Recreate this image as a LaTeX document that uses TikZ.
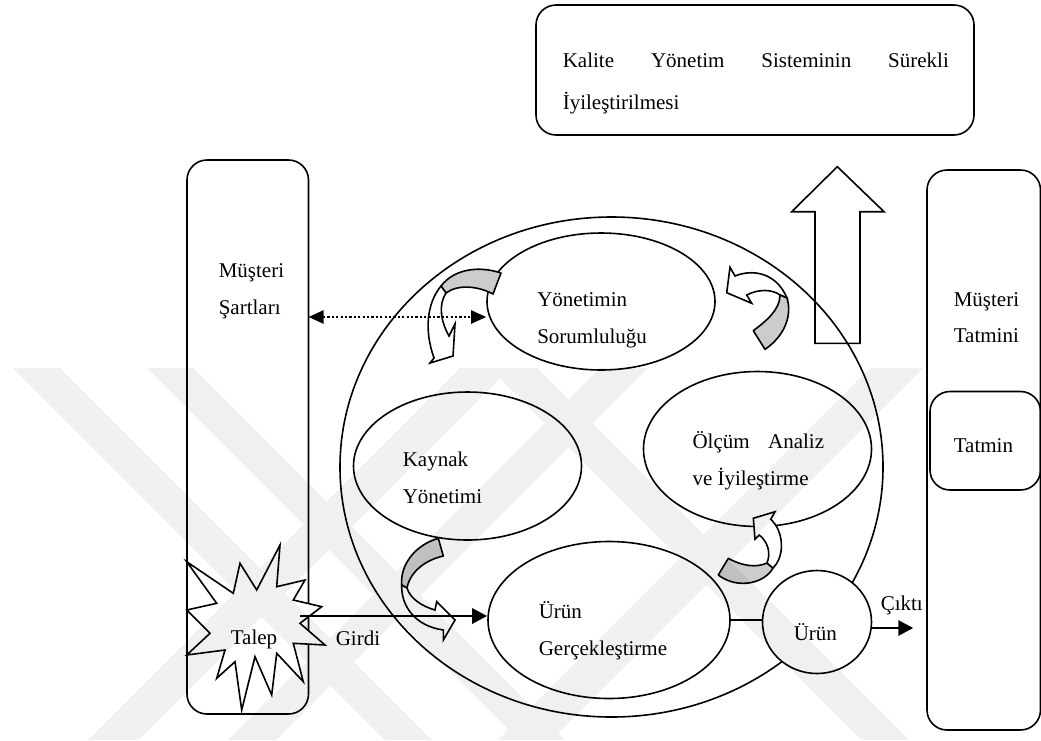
\documentclass[tikz,border=0pt]{standalone}
\usepackage{fontspec}
\setmainfont{Liberation Serif}
\usetikzlibrary{shapes.geometric,arrows.meta}
\begin{document}
\begin{tikzpicture}[x=1pt,y=-1pt,line width=1.6pt,
  frame/.style={draw, rounded corners=20pt},
  oval/.style={draw, ellipse, fill=white, inner sep=0pt},
  txt/.style={anchor=base west, inner sep=0pt, font=\fontsize{21}{25}\selectfont},
  bandgray/.style={draw, fill=black!20, line join=round},
  bandwhite/.style={draw, fill=white, line join=miter},
  flow/.style={line width=2.8pt, -{Triangle[length=15pt,width=15pt]}},
  dotflow/.style={line width=2.2pt, dash pattern=on 2.2pt off 2.2pt,
    {Triangle[length=15pt,width=13pt]}-{Triangle[length=15pt,width=13pt]}},
  stampfill/.style={fill=black, fill opacity=0.06}]
\useasboundingbox (0,0) rectangle (1041,740);
\clip (0,0) rectangle (1041,740);

% frames
\draw[frame] (536,5) rectangle (974,135);
\draw[frame] (187,160) rectangle (308.5,714);
\draw[frame] (927,170) rectangle (1040.5,730);
\draw[frame] (930,391.5) rectangle (1040.5,490);

% outer cycle
\node[draw, ellipse, inner sep=0pt, minimum width=543pt, minimum height=500pt] (cyc) at (611.5,467) {};

% improvement arrow (outline only)
\draw[line join=miter] (815,343.3) -- (815,211.7) -- (791.7,211.7) -- (837.3,166.7)
  -- (884,211.7) -- (860,211.7) -- (860,343.3) -- cycle;

% process ellipses
\node[oval, minimum width=228pt, minimum height=137pt] (yon) at (601,301.5) {};
\node[oval, minimum width=228pt, minimum height=148pt] (kay) at (467.5,466) {};
\node[oval, minimum width=228pt, minimum height=155pt] (olc) at (757.5,449) {};
\node[oval, minimum width=242pt, minimum height=157pt] (ug) at (609,620) {};
\node[oval, minimum width=109pt, minimum height=103pt] (urun) at (817,622) {};
\draw (ug.east) -- (ug.east -| urun.west);

% curved arrows
\draw[bandgray] (441,286) .. controls (455,268) and (480,266) .. (501,273) -- (493,294)
  .. controls (478,286) and (458,284) .. (446,293) -- cycle;
\draw[bandwhite] (441,286) .. controls (427,303) and (424,330) .. (434,358) -- (430,363)
  -- (453,356) -- (455,324) -- (449,336) .. controls (441,322) and (438,305) .. (446,293) -- cycle;

\draw[bandwhite] (735,276) .. controls (752,269) and (776,272) .. (787,298) -- (780,295)
  .. controls (772,289) and (758,289) .. (746.7,295) -- (751.7,303.3) -- (726.7,292.7)
  -- (730,267.3) -- cycle;
\draw[bandgray] (780,295) -- (787,298) .. controls (793,318) and (782,338) .. (765,349.3)
  -- (753.3,330.7) .. controls (766,321) and (780,310) .. (780,295) -- cycle;

\draw[bandgray] (438.3,538.3) -- (443.3,556) .. controls (425,560) and (410,572) .. (407,588)
  -- (401.7,585) .. controls (400,565) and (415,545) .. (438.3,538.3) -- cycle;
\draw[bandwhite] (401.7,585) .. controls (401,606) and (415,626) .. (443.3,630) -- (443.3,640)
  -- (455,620) -- (436.7,601.7) -- (435,610) .. controls (421,606) and (410,598) .. (407,588) -- cycle;

\draw[bandgray] (718.3,575) -- (728.3,558.3) .. controls (742,566) and (756,568) .. (767,563)
  -- (773,568) .. controls (765,583) and (738,590) .. (718.3,575) -- cycle;
\draw[bandwhite] (767,563) .. controls (771,553) and (768,542) .. (759.3,535) -- (755,539.3)
  -- (753.3,518.3) -- (775,511.7) -- (770.7,519.3) .. controls (783,530) and (786,555) .. (773,568) -- cycle;

% demand burst
\draw[fill=white, line join=miter] (186.7,561.7) -- (216.7,603.3) -- (186.7,610) -- (210,633.3)
  -- (186.7,655) -- (225,650) -- (216.7,678.3) -- (235,661.7) -- (241.7,710) -- (255,656.7)
  -- (271.7,695) -- (276.7,653.3) -- (303.3,681.7) -- (293.3,643.3) -- (325,645) -- (300,623.3)
  -- (321.7,606.7) -- (293.3,600) -- (305,580) -- (276.7,586.7) -- (280,545) -- (256.7,590)
  -- (240,563.3) -- (233.3,593.3) -- cycle;

% flows
\coordinate (gin) at (300,616);
\draw[flow] (gin) -- (gin -| ug.west);
\coordinate (cout) at (913.3,628);
\draw[flow] (cout -| urun.east) -- (cout);
\coordinate (req) at (308.5,317);
\draw[dotflow] (req) -- (req -| yon.west);

% labels
\node[txt] (kal1) at (562,67) {\hbox to 386pt{Kalite\hfill Yönetim\hfill Sisteminin\hfill Sürekli}};
\node[txt] (kal2) at (562,109) {İyileştirilmesi};
\node[txt] (ms1) at (218,277) {Müşteri};
\node[txt] (ms2) at (218,314) {Şartları};
\node[txt] (mt1) at (953,306) {Müşteri};
\node[txt] (mt2) at (953,342.7) {Tatmini};
\node[txt] (tat) at (953,452.7) {Tatmin};
\node[txt] (yt1) at (536.5,306.6) {Yönetimin};
\node[txt] (yt2) at (536.5,343.3) {Sorumluluğu};
\node[txt] (kt1) at (402,466.7) {Kaynak};
\node[txt] (kt2) at (402,503.4) {Yönetimi};
\node[txt] (ot1) at (691.7,448.3) {\hbox to 131.6pt{Ölçüm\hfill Analiz}};
\node[txt] (ot2) at (691.7,485) {ve İyileştirme};
\node[txt] (ut1) at (538,618.3) {Ürün};
\node[txt] (ut2) at (538,655) {Gerçekleştirme};
\node[txt] (ur) at (793,640) {Ürün};
\node[txt] (cik) at (880,610) {Çıktı};
\node[txt] (gir) at (335,645) {Girdi};
\node[txt] (tal) at (230,644.3) {Talep};

% faint stamp
\fill[stampfill] (13,368) -- (60,368) -- (432,740) -- (385,740) -- cycle
  (147,368) -- (193,368) -- (565,740) -- (519,740) -- cycle
  (460,368) -- (510,368) -- (138,740) -- (88,740) -- cycle
  (600,368) -- (648,368) -- (276,740) -- (228,740) -- cycle
  (490,368) -- (537,368) -- (909,740) -- (862,740) -- cycle
  (870,368) -- (923,368) -- (551,740) -- (498,740) -- cycle;
\end{tikzpicture}
\end{document}
